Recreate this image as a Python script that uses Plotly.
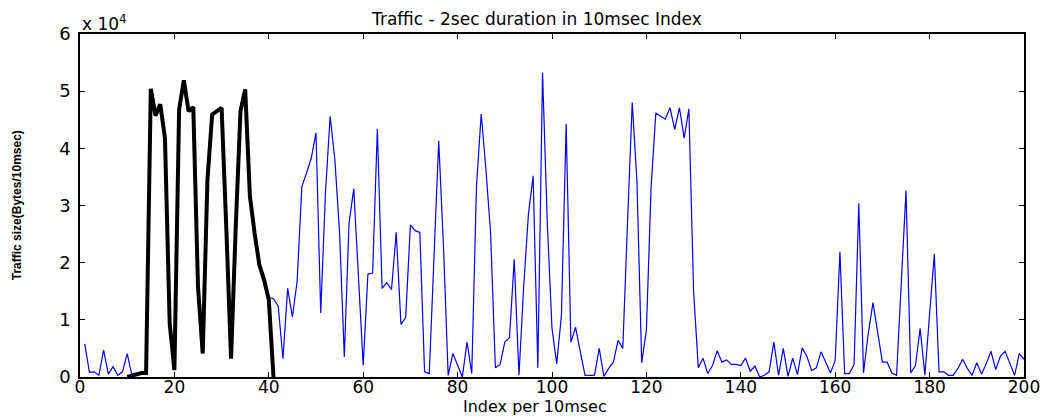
import plotly.graph_objects as go

# ---- data (values in units of 1e4 bytes) ----
blue_idx = list(range(1, 201))
blue_vals = [
    0.58, 0.08, 0.09, 0.03, 0.47, 0.05, 0.18, 0.03, 0.09, 0.41,   # 1-10
    0.03, None, None, None, None, None, None, None, None, None,   # 11-20
    None, None, None, None, None, None, None, None, None, None,   # 21-30
    None, None, None, None, None, None, None, None, None, 1.39,   # 31-40
    1.37, 1.24, 0.32, 1.55, 1.05, 1.67, 3.33, 3.57, 3.83, 4.27,   # 41-50
    1.12, 3.22, 4.56, 3.80, 2.51, 0.35, 2.69, 3.29, 1.81, 0.20,   # 51-60
    1.80, 1.82, 4.34, 1.55, 1.65, 1.53, 2.53, 0.92, 1.04, 2.66,   # 61-70
    2.56, 2.53, 0.09, 0.06, 2.10, 4.13, 2.30, 0.03, 0.41, 0.20,   # 71-80
    0.00, 0.61, 0.06, 3.33, 4.60, 3.63, 2.51, 0.16, 0.22, 0.61,   # 81-90
    0.69, 2.06, 0.03, 1.58, 2.84, 3.52, 0.16, 5.32, 2.70, 0.85,   # 91-100
    0.23, 1.08, 4.43, 0.61, 0.87, 0.44, 0.03, 0.03, 0.03, 0.50,   # 101-110
    0.01, 0.15, 0.26, 0.64, 0.50, 2.70, 4.80, 3.42, 0.25, 0.82,   # 111-120
    3.33, 4.62, 4.56, 4.51, 4.71, 4.33, 4.71, 4.18, 4.69, 1.50,   # 121-130
    0.16, 0.33, 0.06, 0.20, 0.46, 0.26, 0.30, 0.22, 0.22, 0.20,   # 131-140
    0.33, 0.10, 0.19, 0.00, 0.03, 0.09, 0.61, 0.03, 0.50, 0.01,   # 141-150
    0.33, 0.04, 0.51, 0.36, 0.11, 0.16, 0.44, 0.26, 0.07, 0.29,   # 151-160
    2.19, 0.06, 0.06, 0.22, 3.04, 0.07, 0.76, 1.30, 0.75, 0.26,   # 161-170
    0.26, 0.07, 0.03, 1.60, 3.26, 0.07, 0.20, 0.85, 0.03, 1.10,   # 171-180
    2.15, 0.09, 0.09, 0.03, 0.03, 0.15, 0.31, 0.15, 0.03, 0.25,   # 181-190
    0.05, 0.23, 0.45, 0.13, 0.36, 0.45, 0.23, 0.03, 0.41, 0.31,   # 191-200
]

black_idx = list(range(10, 42))
black_vals = [
    0.00, 0.02, 0.04, 0.07, 0.07, 5.04, 4.57, 4.77, 4.18, 0.94,   # 10-19
    0.12, 4.68, 5.19, 4.65, 4.72, 1.58, 0.41, 3.45, 4.59, 4.65,   # 20-29
    4.71, 2.60, 0.32, 2.63, 4.65, 5.03, 3.16, 2.51, 1.96, 1.70,   # 30-39
    1.35, 0.00,                                                   # 40-41
]

scale = 1e4
x_ticks = [0, 20, 40, 60, 80, 100, 120, 140, 160, 180, 200]
y_tick_labels = ["0", "1", "2", "3", "4", "5", "6"]

title_text = "Traffic - 2sec duration in 10msec Index"
x_title = "Index per 10msec"
y_title = "Traffic size(Bytes/10msec)"

FONT = "DejaVu Sans"

fig = go.Figure()
fig.add_trace(go.Scatter(
    x=blue_idx,
    y=[v * scale if v is not None else None for v in blue_vals],
    mode="lines", line=dict(color="#0000ff", width=1.2),
    connectgaps=False, showlegend=False,
))
fig.add_trace(go.Scatter(
    x=black_idx,
    y=[v * scale for v in black_vals],
    mode="lines", line=dict(color="#000000", width=4),
    showlegend=False,
))

axis_common = dict(
    showline=True, linecolor="black", linewidth=1.5, mirror="allticks",
    ticks="inside", ticklen=5, tickcolor="black", tickwidth=1,
    showgrid=False, zeroline=False, automargin=False,
)

fig.update_layout(
    width=1047, height=409,
    margin=dict(l=72, r=31, t=26, b=40),
    paper_bgcolor="white", plot_bgcolor="white",
    xaxis=dict(range=[0, 200], tickvals=x_ticks, ticklabelstandoff=-6,
               tickfont=dict(family=FONT, size=17, color="black"), **axis_common),
    yaxis=dict(range=[0, 6 * scale],
               tickvals=[i * scale for i in range(len(y_tick_labels))],
               ticktext=y_tick_labels, ticklabelstandoff=4,
               tickfont=dict(family=FONT, size=18, color="black"), **axis_common),
    annotations=[
        dict(text=title_text, xref="paper", yref="paper", x=0.484, y=1.044,
             xanchor="center", yanchor="middle", showarrow=False,
             font=dict(family=FONT, size=17, color="black")),
        dict(text=x_title, xref="paper", yref="paper", x=0.482, y=-0.087,
             xanchor="center", yanchor="middle", showarrow=False,
             font=dict(family=FONT, size=16, color="black")),
        dict(text="x 10<sup>4</sup>", xref="paper", yref="paper", x=0, y=1,
             xanchor="left", yanchor="bottom", showarrow=False, yshift=-2,
             font=dict(family=FONT, size=17, color="black")),
        dict(text=y_title, xref="paper", yref="paper", x=-0.067, y=0.5,
             xanchor="center", yanchor="middle", textangle=-90, showarrow=False,
             font=dict(family="Liberation Sans Narrow, Liberation Sans", size=12,
                       color="black", weight="bold")),
    ],
)

fig.write_html("out.html")
